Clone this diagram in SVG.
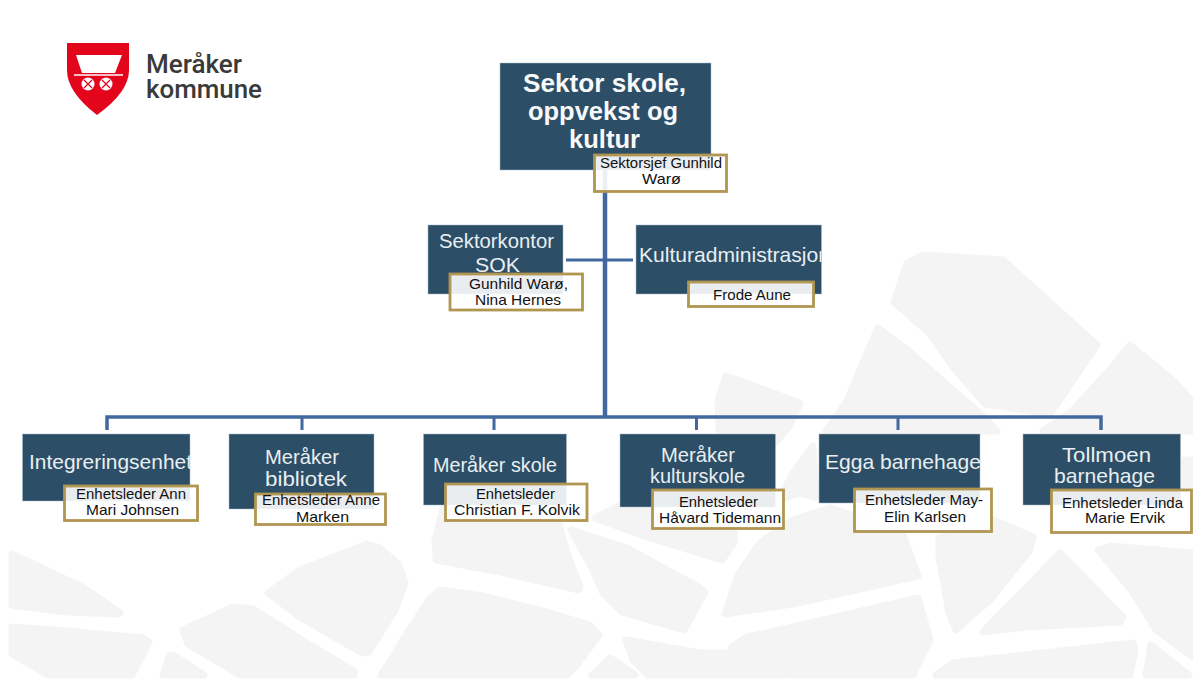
<svg xmlns="http://www.w3.org/2000/svg" width="1193" height="679" viewBox="0 0 1193 679">
<style>
.bg{fill:#f4f4f4;stroke:#f4f4f4;stroke-width:7;stroke-linejoin:round}
.box{fill:#2c4e66;stroke:#a9bccb;stroke-width:.5}
.sub{fill:#fff;fill-opacity:.9;stroke:#b09650;stroke-width:2.8}
.main{font:21px "Liberation Sans",Arial,sans-serif;fill:#e9eef2}
.top{font:bold 25px "Liberation Sans",Arial,sans-serif;fill:#f7f9fa}
.name{font:15px "Liberation Sans",Arial,sans-serif;fill:#111}
.logo{font:500 25px "Roboto",sans-serif;fill:#3a3a3a}
.link{fill:none;stroke:#41689f;stroke-linejoin:miter}
</style>
<defs>
<clipPath id="c1"><rect x="22.500" y="434" width="167.500" height="67"/></clipPath>
<clipPath id="c2"><rect x="636" y="225" width="185.500" height="69"/></clipPath>
<clipPath id="c3"><rect x="819" y="434" width="162" height="69"/></clipPath>
</defs>
<rect width="1193" height="679" fill="#fff"/>
<g id="background">
<path class="bg" d="M12 554L82 587L120 613L117 614L67 612L12 605Z"/>
<path class="bg" d="M12 627L67 631L143 638L149 642L132 675H48L12 654Z"/>
<path class="bg" d="M268 593L300 570L367 544L380 548L399 565L405 583L395 610L369 652L362 653L300 617Z"/>
<path class="bg" d="M183 630L233 607L253 609L310 645L354 671V675H240L188 644Z"/>
<path class="bg" d="M170 655L173 655L204 675H163Z"/>
<path class="bg" d="M393 657L403 640L430 598L440 590L483 596L550 613L590 625L599 635L577 665L567 675H381Z"/>
<path class="bg" d="M610 658L635 675H592Z"/>
<path class="bg" d="M435 540L443 508H555L566 550L580 587L579 590L500 572L436 560Z"/>
<path class="bg" d="M571 530L627 548L697 586L705 592L684 630L622 612L603 593L593 570Z"/>
<path class="bg" d="M595 518L625 503H700L734 527V543L722 560L647 537Z"/>
<path class="bg" d="M626 640L700 653L728 653L785 675H648L633 660Z"/>
<path class="bg" d="M731 648L747 637L793 627L918 598L930 640L913 675H790L745 660Z"/>
<path class="bg" d="M726 376L740 381L800 403L790 425L776 442L719 430L718 400Z"/>
<path class="bg" d="M725 614L738 575L760 543L793 520L830 508L902 532L918 576L793 604Z"/>
<path class="bg" d="M779 500L793 473L813 446L816 497L800 493Z"/>
<path class="bg" d="M894 302L907 263L923 255L1003 260L1097 345L1050 414L985 404L953 367L930 334Z"/>
<path class="bg" d="M878 328L905 348L953 390L985 418L997 431H826L846 403L861 367Z"/>
<path class="bg" d="M939 537L993 520L1033 537L1030 550L990 600L956 630L949 613L939 557Z"/>
<path class="bg" d="M983 632L1060 553L1123 617L1120 622L1026 627Z"/>
<path class="bg" d="M1098 550L1110 546L1193 553V657L1156 630L1131 590Z"/>
<path class="bg" d="M1151 645L1189 675H1146Z"/>
<path class="bg" d="M936 675L953 663L1133 643L1135 650L1130 675Z"/>
<path class="bg" d="M1130 345L1176 383L1193 403V431H1043L1073 410L1113 366Z"/>
<path class="bg" d="M1184 460H1193V489H1184Z"/>
</g>
<g id="connectors">
<path class="link" stroke-width="4.500" d="M605 170V417"/>
<path class="link" stroke-width="3" d="M566 260H633"/>
<path class="link" stroke-width="3.500" d="M107 430V417H1101V430"/>
<path class="link" stroke-width="3" d="M302 417V430M494 417V430M696.500 417V430M898 417V430"/>
</g>
<g id="logo">
<path d="M67 43H129V70Q129 92 97 115Q67 92 67 70Z" fill="#e3051b"/>
<path d="M76 55H122L115 73H82Z" fill="#fff"/>
<path d="M74 75H123" stroke="#fff" stroke-width="1.500"/>
<circle cx="88" cy="84" r="6.500" fill="#fff"/>
<circle cx="106" cy="84" r="6.500" fill="#fff"/>
<path d="M84 80L92 88M92 80L84 88M102 80L110 88M110 80L102 88" stroke="#e3051b" stroke-width="1.200"/>
<text class="logo" x="146" y="73" textLength="96" lengthAdjust="spacingAndGlyphs">Meråker</text>
<text class="logo" x="146" y="98" textLength="116" lengthAdjust="spacingAndGlyphs">kommune</text>
</g>
<g id="n-sektor">
<rect class="box" x="500" y="63" width="211" height="107"/>
<text class="top" x="523" y="92" textLength="163" lengthAdjust="spacingAndGlyphs">Sektor skole,</text>
<text class="top" x="528" y="120" textLength="150" lengthAdjust="spacingAndGlyphs">oppvekst og</text>
<text class="top" x="569" y="148" textLength="71" lengthAdjust="spacingAndGlyphs">kultur</text>
<rect class="sub" x="594.500" y="155" width="132" height="36.500"/>
<text class="name" x="600" y="168" textLength="122" lengthAdjust="spacingAndGlyphs">Sektorsjef Gunhild</text>
<text class="name" x="642" y="184" textLength="39" lengthAdjust="spacingAndGlyphs">Warø</text>
</g>
<g id="n-sok">
<rect class="box" x="428" y="225" width="135" height="69"/>
<text class="main" x="439" y="248" textLength="115" lengthAdjust="spacingAndGlyphs">Sektorkontor</text>
<text class="main" x="475" y="272" textLength="45" lengthAdjust="spacingAndGlyphs">SOK</text>
<rect class="sub" x="450" y="274" width="132.500" height="36"/>
<text class="name" x="469" y="289" textLength="99" lengthAdjust="spacingAndGlyphs">Gunhild Warø,</text>
<text class="name" x="475" y="305" textLength="86" lengthAdjust="spacingAndGlyphs">Nina Hernes</text>
</g>
<g id="n-kultur">
<rect class="box" x="636" y="225" width="185.500" height="69"/>
<text class="main" x="639" y="262" textLength="191" lengthAdjust="spacingAndGlyphs" clip-path="url(#c2)">Kulturadministrasjon</text>
<rect class="sub" x="688.500" y="282" width="125" height="24.500"/>
<text class="name" x="713" y="300" textLength="78" lengthAdjust="spacingAndGlyphs">Frode Aune</text>
</g>
<g id="n-integrering">
<rect class="box" x="22.500" y="434" width="167.500" height="67"/>
<text class="main" x="29" y="469" textLength="163" lengthAdjust="spacingAndGlyphs" clip-path="url(#c1)">Integreringsenhet</text>
<rect class="sub" x="64.500" y="486" width="133" height="34.500"/>
<text class="name" x="76" y="499" textLength="110" lengthAdjust="spacingAndGlyphs">Enhetsleder Ann</text>
<text class="name" x="86" y="515" textLength="93" lengthAdjust="spacingAndGlyphs">Mari Johnsen</text>
</g>
<g id="n-bibliotek">
<rect class="box" x="229" y="434" width="145" height="75"/>
<text class="main" x="265" y="464" textLength="74" lengthAdjust="spacingAndGlyphs">Meråker</text>
<text class="main" x="265" y="486" textLength="82" lengthAdjust="spacingAndGlyphs">bibliotek</text>
<rect class="sub" x="255.500" y="494" width="130" height="30.500"/>
<text class="name" x="262" y="505" textLength="118" lengthAdjust="spacingAndGlyphs">Enhetsleder Anne</text>
<text class="name" x="296" y="522" textLength="53" lengthAdjust="spacingAndGlyphs">Marken</text>
</g>
<g id="n-skole">
<rect class="box" x="423.500" y="434" width="143" height="71"/>
<text class="main" x="433" y="472" textLength="124" lengthAdjust="spacingAndGlyphs">Meråker skole</text>
<rect class="sub" x="445.500" y="484" width="141.500" height="36.500"/>
<text class="name" x="476" y="499" textLength="79" lengthAdjust="spacingAndGlyphs">Enhetsleder</text>
<text class="name" x="454" y="515" textLength="126" lengthAdjust="spacingAndGlyphs">Christian F. Kolvik</text>
</g>
<g id="n-kulturskole">
<rect class="box" x="620" y="434" width="155.500" height="73"/>
<text class="main" x="661" y="462" textLength="74" lengthAdjust="spacingAndGlyphs">Meråker</text>
<text class="main" x="650" y="483" textLength="95" lengthAdjust="spacingAndGlyphs">kulturskole</text>
<rect class="sub" x="652.500" y="490" width="131" height="38.500"/>
<text class="name" x="679" y="507" textLength="79" lengthAdjust="spacingAndGlyphs">Enhetsleder</text>
<text class="name" x="659" y="523" textLength="122" lengthAdjust="spacingAndGlyphs">Håvard Tidemann</text>
</g>
<g id="n-egga">
<rect class="box" x="819" y="434" width="161" height="69"/>
<text class="main" x="825" y="469" textLength="156" lengthAdjust="spacingAndGlyphs" clip-path="url(#c3)">Egga barnehage</text>
<rect class="sub" x="854.500" y="489" width="137" height="42.500"/>
<text class="name" x="865" y="505" textLength="118" lengthAdjust="spacingAndGlyphs">Enhetsleder May-</text>
<text class="name" x="884" y="522" textLength="82" lengthAdjust="spacingAndGlyphs">Elin Karlsen</text>
</g>
<g id="n-tollmoen">
<rect class="box" x="1023" y="434" width="157.500" height="71"/>
<text class="main" x="1062" y="462" textLength="89" lengthAdjust="spacingAndGlyphs">Tollmoen</text>
<text class="main" x="1054" y="483" textLength="101" lengthAdjust="spacingAndGlyphs">barnehage</text>
<rect class="sub" x="1051.500" y="490" width="140" height="42.500"/>
<text class="name" x="1062" y="508" textLength="121" lengthAdjust="spacingAndGlyphs">Enhetsleder Linda</text>
<text class="name" x="1085" y="523" textLength="80" lengthAdjust="spacingAndGlyphs">Marie Ervik</text>
</g>
</svg>
